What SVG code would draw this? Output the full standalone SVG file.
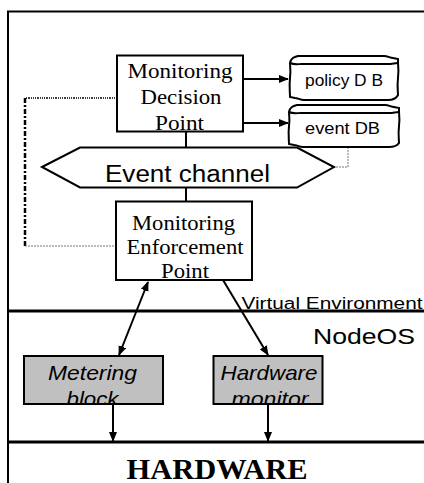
<svg xmlns="http://www.w3.org/2000/svg" width="424" height="483" viewBox="0 0 424 483">
<style>
.box{fill:#fff;stroke:#000;stroke-width:2}
.gbox{fill:#c0c0c0;stroke:#000;stroke-width:2}
.ln{fill:none;stroke:#000;stroke-width:2}
.sep{fill:none;stroke:#000;stroke-width:3}
.tm{font-family:"Liberation Serif","Times New Roman",serif;font-size:20px;fill:#000;text-anchor:middle}
.ar{font-family:"Liberation Sans",Arial,sans-serif;fill:#000;text-anchor:middle}
.it{font-family:"Liberation Sans",Arial,sans-serif;font-style:italic;font-size:21px;fill:#000;text-anchor:middle}
</style>
<defs>
<marker id="ah" markerUnits="userSpaceOnUse" markerWidth="10" markerHeight="8" refX="9" refY="4" orient="auto-start-reverse">
<path d="M0,0 L10,4 L0,8 Z" fill="#000"/>
</marker>
<clipPath id="c1"><rect x="25" y="357" width="137" height="46"/></clipPath>
<clipPath id="c2"><rect x="214" y="357" width="108" height="46"/></clipPath>
</defs>
<rect width="424" height="483" fill="#fff"/>
<g id="frame">
<path class="ln" d="M8,483 L8,11.5 L424,11.5"/>
<line class="sep" x1="8" y1="311" x2="424" y2="311"/>
<line class="sep" x1="8" y1="442" x2="424" y2="442"/>
<text class="ar" x="332" y="308.5" font-size="16" textLength="181" lengthAdjust="spacingAndGlyphs">Virtual Environment</text>
<text class="ar" x="364" y="343.5" font-size="22" textLength="102" lengthAdjust="spacingAndGlyphs">NodeOS</text>
<text x="217" y="479" font-family="'Liberation Serif','Times New Roman',serif" font-weight="bold" font-size="29" text-anchor="middle" textLength="181" lengthAdjust="spacingAndGlyphs">HARDWARE</text>
</g>
<g id="connectors">
<line class="ln" x1="186" y1="131" x2="186" y2="147"/>
<line class="ln" x1="186" y1="187" x2="186" y2="201"/>
<line class="ln" x1="243" y1="79" x2="288" y2="79" marker-end="url(#ah)"/>
<line class="ln" x1="243" y1="123" x2="288" y2="123" marker-end="url(#ah)"/>
<path d="M348,147 L348,167 L336,167" fill="none" stroke="#777" stroke-width="1" stroke-dasharray="2 1"/>
<path d="M117,98 L25,98" fill="none" stroke="#000" stroke-width="1.5" stroke-dasharray="1 1 1 1 1 1 2 1"/>
<path d="M25,98 L25,246" fill="none" stroke="#000" stroke-width="2.5" stroke-dasharray="5 2 2 2"/>
<path d="M25,246 L116,246" fill="none" stroke="#777" stroke-width="1" stroke-dasharray="2 1"/>
<line class="ln" x1="148" y1="282" x2="119" y2="355" marker-start="url(#ah)" marker-end="url(#ah)"/>
<line class="ln" x1="223" y1="280" x2="268" y2="355" marker-end="url(#ah)"/>
<line class="ln" x1="113" y1="404" x2="113" y2="441" marker-end="url(#ah)"/>
<line class="ln" x1="268" y1="404" x2="268" y2="441" marker-end="url(#ah)"/>
</g>
<g id="mdp">
<rect class="box" x="117" y="55.5" width="126" height="76"/>
<text class="tm" x="180" y="78" textLength="105" lengthAdjust="spacingAndGlyphs">Monitoring</text>
<text class="tm" x="181" y="104" textLength="81" lengthAdjust="spacingAndGlyphs">Decision</text>
<text class="tm" x="179.5" y="130" textLength="49" lengthAdjust="spacingAndGlyphs">Point</text>
</g>
<g id="policydb">
<path class="box" d="M290,63 C291,58 294,57 298,56 L384,56 C388,56 390,58 393,58 L398,59 L398,63 C398,64 399,70 398,78 C397,86 398,92 398,95 C396,99 392,100 388,100 L304,100 C300,100 298,98 295,98 L290,97 C290,92 289,86 290,78 C291,70 290,66 290,63 Z"/>
<path class="ln" d="M290,63 C294,65 298,64 302,64 L388,64 C392,64 395,63 398,63"/>
<text class="ar" x="344" y="85.5" font-size="16" textLength="78" lengthAdjust="spacingAndGlyphs">policy D B</text>
</g>
<g id="eventdb">
<path class="box" d="M289,112 C290,107 293,106 297,105 L385,105 C389,105 391,107 394,107 L399,108 L399,112 C399,113 400,119 399,126 C398,134 399,140 399,143 C397,146 393,147 389,147 L303,147 C299,147 297,145 294,145 L289,144 C289,140 288,134 289,126 C290,119 289,115 289,112 Z"/>
<path class="ln" d="M289,112 C293,114 297,113 301,113 L389,113 C393,113 396,112 399,112"/>
<text class="ar" x="342.5" y="133.5" font-size="16" textLength="75" lengthAdjust="spacingAndGlyphs">event DB</text>
</g>
<g id="channel">
<polygon class="box" points="42,167 80,147.5 297,147.5 334,167 297,187.5 80,187.5"/>
<text class="ar" x="187.5" y="182" font-size="23" textLength="165" lengthAdjust="spacingAndGlyphs">Event channel</text>
</g>
<g id="mep">
<rect class="box" x="116" y="201.5" width="136" height="78.5"/>
<text class="tm" x="183.5" y="230" textLength="103" lengthAdjust="spacingAndGlyphs">Monitoring</text>
<text class="tm" x="185" y="253.5" textLength="117" lengthAdjust="spacingAndGlyphs">Enforcement</text>
<text class="tm" x="185" y="277.5" textLength="48" lengthAdjust="spacingAndGlyphs">Point</text>
</g>
<g id="metering">
<rect class="gbox" x="24" y="356" width="139" height="48"/>
<g clip-path="url(#c1)">
<text class="it" x="92.5" y="380" textLength="89" lengthAdjust="spacingAndGlyphs">Metering</text>
<text class="it" x="92.5" y="406" textLength="52" lengthAdjust="spacingAndGlyphs">block</text>
</g>
</g>
<g id="hwmon">
<rect class="gbox" x="213.5" y="356" width="109" height="48"/>
<g clip-path="url(#c2)">
<text class="it" x="269" y="380" textLength="97" lengthAdjust="spacingAndGlyphs">Hardware</text>
<text class="it" x="270" y="406" textLength="77" lengthAdjust="spacingAndGlyphs">monitor</text>
</g>
</g>
</svg>
